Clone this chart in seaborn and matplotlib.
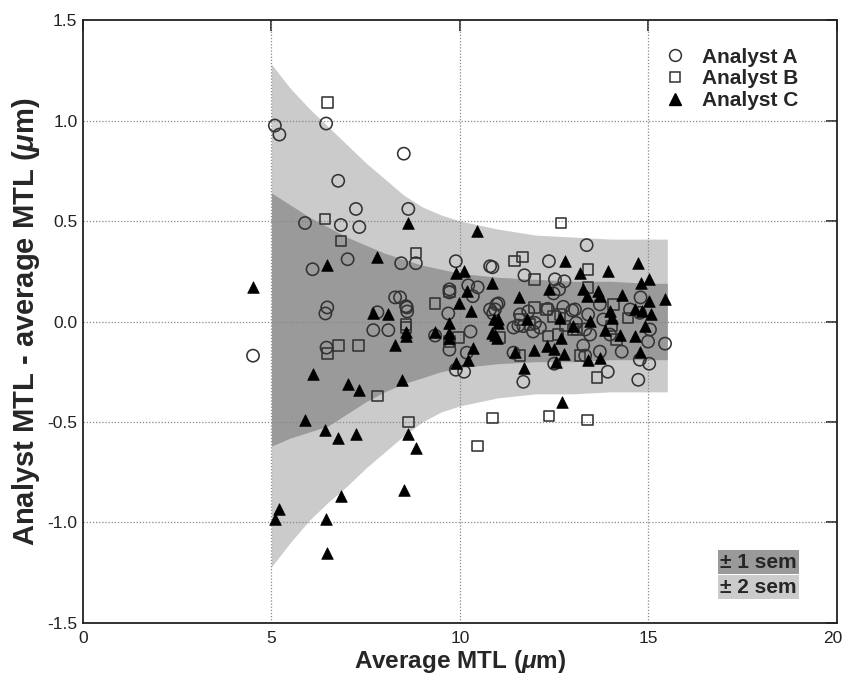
import matplotlib
matplotlib.use("Agg")
import matplotlib.pyplot as plt
from matplotlib.lines import Line2D
from matplotlib.transforms import ScaledTranslation
import seaborn as sns
import pandas as pd

# ---------------- data ----------------
a_x = [4.51, 5.09, 5.21, 6.45, 8.51, 6.77, 7.24, 8.63, 5.89, 6.84, 7.33, 7.02, 8.44, 6.09, 8.28,
       6.48, 6.43, 7.81, 7.70, 8.10, 8.59, 6.46, 8.83, 9.89, 10.80, 9.72, 9.72, 10.22, 10.47, 10.34,
       8.60, 9.69, 9.34, 10.28, 9.72, 10.18, 9.89, 10.11, 10.80, 8.41, 8.57, 10.86, 12.36, 11.71,
       12.52, 12.77, 12.63, 12.48, 11.02, 10.93, 10.88, 11.68, 11.42, 12.50, 11.42, 11.59, 11.68,
       11.81, 11.94, 11.99, 12.12, 12.33, 12.74, 12.98, 11.55, 10.97, 13.36, 14.79, 15.44, 13.05,
       13.40, 13.71, 13.08, 13.32, 13.80, 14.51, 14.77, 15.04, 14.99, 14.29, 14.77, 15.02, 14.73,
       13.92, 13.71, 13.27, 13.32, 13.98, 13.45]
a_y = [-0.17, 0.975, 0.93, 0.985, 0.835, 0.70, 0.56, 0.56, 0.49, 0.48, 0.47, 0.31, 0.29, 0.26, 0.12,
       0.07, 0.04, 0.046, -0.043, -0.043, 0.07, -0.13, 0.29, 0.30, 0.275, 0.16, 0.145, 0.18, 0.17, 0.126,
       0.05, 0.04, -0.07, -0.05, -0.14, -0.155, -0.24, -0.25, 0.06, 0.12, 0.076, 0.27, 0.30, 0.23,
       0.21, 0.20, 0.16, 0.14, 0.09, 0.06, 0.04, -0.30, -0.155, -0.21, -0.03, 0.035, -0.023,
       0.05, -0.05, -0.007, -0.03, 0.063, 0.073, 0.055, -0.02, 0.085, 0.38, 0.12, -0.11, 0.06,
       0.035, 0.085, -0.007, -0.04, 0.01, 0.06, 0.043, -0.04, -0.10, -0.15, -0.19, -0.21, -0.29,
       -0.25, -0.15, -0.12, -0.17, -0.065, -0.065]

b_x = [6.48, 6.42, 6.84, 6.48, 6.78, 7.31, 7.81, 8.63, 8.57, 8.83, 9.72, 9.34, 8.57, 9.96, 9.72,
       11.06, 11.44, 11.66, 11.97, 11.59, 11.97, 12.30, 12.65, 12.48, 12.79, 12.34, 12.60, 13.00,
       11.59, 11.86, 13.40, 13.40, 14.07, 13.64, 13.18, 13.10, 14.15, 14.46, 14.02, 10.87, 10.47,
       12.36, 13.38, 12.68]
b_y = [1.09, 0.51, 0.40, -0.16, -0.12, -0.12, -0.37, -0.50, -0.015, 0.34, 0.15, 0.09, -0.03, -0.08, -0.10,
       -0.08, 0.30, 0.32, 0.21, -0.17, 0.071, 0.06, 0.035, 0.026, -0.023, -0.073, -0.065, -0.04,
       0.01, -0.015, 0.26, 0.168, 0.085, -0.28, -0.17, -0.04, -0.09, 0.018, -0.023, -0.48, -0.62,
       -0.47, -0.49, 0.49]

c_x = [4.51, 8.63, 6.48, 7.80, 7.70, 8.10, 8.28, 6.09, 7.02, 7.31, 8.45, 5.89, 6.43, 6.77, 7.24,
       8.63, 8.51, 6.84, 5.21, 5.09, 6.45, 6.46, 8.58, 8.83, 9.89, 10.11, 10.18, 9.97, 10.28, 9.72,
       8.58, 9.34, 9.72, 9.72, 10.35, 10.22, 9.89, 10.46, 12.79, 10.86, 12.37, 11.57, 11.02, 10.84,
       10.97, 11.71, 12.70, 11.46, 11.97, 12.54, 12.30, 12.50, 12.77, 12.68, 11.79, 12.65, 10.91,
       11.00, 10.93, 13.18, 13.92, 14.73, 14.79, 15.02, 15.02, 15.45, 13.27, 13.36, 13.67, 13.71,
       14.29, 13.40, 13.71, 14.77, 14.24, 14.64, 13.00, 13.45, 13.98, 14.02, 14.64, 14.82, 15.08,
       14.91, 13.85]
c_y = [0.17, 0.49, 0.28, 0.32, 0.04, 0.035, -0.115, -0.26, -0.31, -0.34, -0.29, -0.49, -0.54, -0.58, -0.56,
       -0.56, -0.84, -0.87, -0.935, -0.985, -0.985, -1.15, -0.05, -0.63, 0.24, 0.25, 0.15, 0.09, 0.05, -0.007,
       -0.07, -0.05, -0.056, -0.08, -0.13, -0.19, -0.205, 0.45, 0.30, 0.19, 0.16, 0.12, 0.013, -0.056,
       -0.08, -0.23, -0.40, -0.15, -0.14, -0.20, -0.12, -0.136, -0.16, -0.08, 0.013, 0.018, 0.01,
       -0.007, -0.065, 0.24, 0.25, 0.29, 0.19, 0.21, 0.10, 0.11, 0.16, 0.126, 0.15, 0.126,
       0.134, -0.19, -0.18, -0.15, -0.065, -0.073, -0.023, 0.002, 0.05, 0.018, 0.06, 0.05, 0.035,
       -0.023, -0.04]

band_x = [5.0, 5.5, 6.0, 6.5, 7.0, 7.5, 8.0, 8.5, 9.0, 9.5, 10.0, 11.0, 12.0, 13.0, 14.0, 15.0, 15.5]
sem2_up = [1.28, 1.16, 1.06, 0.97, 0.88, 0.79, 0.71, 0.63, 0.57, 0.53, 0.50, 0.46, 0.43, 0.42, 0.41, 0.41, 0.41]
sem2_lo = [-1.22, -1.10, -0.99, -0.90, -0.82, -0.73, -0.65, -0.57, -0.50, -0.45, -0.42, -0.38, -0.36, -0.36, -0.35, -0.35, -0.35]
sem1_up = [0.64, 0.58, 0.52, 0.47, 0.42, 0.38, 0.34, 0.31, 0.28, 0.26, 0.24, 0.22, 0.21, 0.20, 0.20, 0.19, 0.19]
sem1_lo = [-0.62, -0.58, -0.55, -0.52, -0.46, -0.40, -0.35, -0.31, -0.28, -0.25, -0.23, -0.21, -0.20, -0.20, -0.19, -0.19, -0.19]

series_labels = ["Analyst A", "Analyst B", "Analyst C"]
x_ticks = [0, 5, 10, 15, 20]
y_ticks = [-1.5, -1.0, -0.5, 0.0, 0.5, 1.0, 1.5]

# ---------------- style ----------------
sns.set_style("white")
plt.rcParams["font.family"] = ["Liberation Sans", "DejaVu Sans"]
plt.rcParams["mathtext.fontset"] = "custom"
plt.rcParams["mathtext.it"] = "Liberation Sans:italic:bold"
plt.rcParams["mathtext.rm"] = "Liberation Sans:bold"
plt.rcParams["mathtext.bf"] = "Liberation Sans:bold"

fig = plt.figure(figsize=(8.45, 6.81), dpi=100)
ax = fig.add_axes([0.0982, 0.0852, 0.8923, 0.8854])

DARK = "#9a9a9a"
LIGHT = "#cbcbcb"
EDGE = "#333333"

ax.fill_between(band_x, sem2_lo, sem2_up, color=LIGHT, lw=0, zorder=1)
ax.fill_between(band_x, sem1_lo, sem1_up, color=DARK, lw=0, zorder=1.1)

for v in [5, 10, 15]:
    ax.axvline(v, color="#888888", ls=(0, (1, 1.5)), lw=0.9, zorder=2)
for v in [-1.0, -0.5, 0.0, 0.5, 1.0]:
    ax.axhline(v, color="#888888", ls=(0, (1, 1.5)), lw=0.9, zorder=2)

dfa = pd.DataFrame({"x": a_x, "y": a_y})
dfb = pd.DataFrame({"x": b_x, "y": b_y})
dfc = pd.DataFrame({"x": c_x, "y": c_y})

sns.scatterplot(data=dfa, x="x", y="y", ax=ax, marker="o", s=78,
                facecolor="none", edgecolor=EDGE, linewidth=1.15, zorder=3, legend=False)
sns.scatterplot(data=dfb, x="x", y="y", ax=ax, marker="s", s=58,
                facecolor="none", edgecolor=EDGE, linewidth=1.15, zorder=3, legend=False)
sns.scatterplot(data=dfc, x="x", y="y", ax=ax, marker="^", s=70,
                color="black", edgecolor="black", linewidth=0.5, zorder=4, legend=False)

ax.set_xlim(0, 20)
ax.set_ylim(-1.5, 1.5)
ax.set_xticks(x_ticks)
ax.set_yticks(y_ticks)
ax.set_xticklabels([str(t) for t in x_ticks])
ax.set_yticklabels([f"{t:.1f}" for t in y_ticks])
ax.tick_params(direction="in", length=8, width=1.2, top=True, right=True,
               labelsize=12.5, colors="#222222")
ax.tick_params(axis="y", pad=4)
ax.tick_params(axis="x", pad=6)
for sp in ax.spines.values():
    sp.set_linewidth(1.3)
    sp.set_color("#222222")
    sp.set_zorder(5)

last = ax.get_xticklabels()[-1]
last.set_transform(last.get_transform() + ScaledTranslation(-4 / 100, 0, fig.dpi_scale_trans))

ax.set_xlabel("Average MTL ($\\mu$m)", fontsize=17.5, fontweight="bold", labelpad=1)
ax.set_ylabel("Analyst MTL - average MTL ($\\mu$m)", fontsize=21, fontweight="bold", labelpad=4)

handles = [
    Line2D([], [], marker="o", ls="none", mfc="none", mec=EDGE, ms=8.5, mew=1.1),
    Line2D([], [], marker="s", ls="none", mfc="none", mec=EDGE, ms=7.5, mew=1.1),
    Line2D([], [], marker="^", ls="none", mfc="black", mec="black", ms=8),
]
leg = ax.legend(handles, series_labels, loc="upper left", bbox_to_anchor=(0.757, 0.968),
                frameon=False, prop={"weight": "bold", "size": 15},
                labelspacing=0.13, handletextpad=0.7, handlelength=1.2, borderaxespad=0)

ax.text(0.896, 0.101, "± 1 sem", transform=ax.transAxes, ha="center", va="center",
        fontsize=15, fontweight="bold", zorder=6,
        bbox=dict(boxstyle="square,pad=0.12", fc=DARK, ec="none"))
ax.text(0.896, 0.059, "± 2 sem", transform=ax.transAxes, ha="center", va="center",
        fontsize=15, fontweight="bold", zorder=6,
        bbox=dict(boxstyle="square,pad=0.12", fc=LIGHT, ec="none"))

fig.savefig("out.png", dpi=100)
